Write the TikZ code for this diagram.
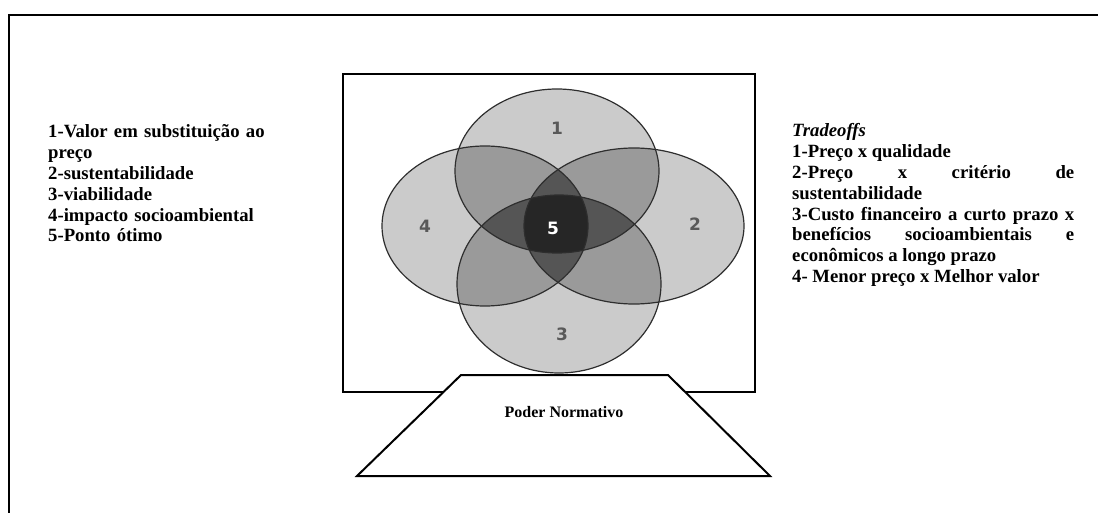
\documentclass[tikz,border=0pt]{standalone}
\usepackage{fontspec}
\setmainfont{Liberation Serif}
\newfontfamily\numfont{DejaVu Sans}
\usetikzlibrary{positioning}
\definecolor{petalgray}{HTML}{CBCBCB}
\definecolor{pairgray}{HTML}{9A9A9A}
\definecolor{triplegray}{HTML}{555555}
\definecolor{coregray}{HTML}{262626}
\definecolor{rimgray}{HTML}{2E2E2E}
\definecolor{numgray}{HTML}{595959}

% the four petals of the Venn diagram
\newcommand{\petalA}{(557,171) ellipse [x radius=102pt, y radius=82pt]}
\newcommand{\petalB}{(634,226) ellipse [x radius=110pt, y radius=78pt]}
\newcommand{\petalC}{(559,284) ellipse [x radius=102pt, y radius=89pt]}
\newcommand{\petalD}{(485,226) ellipse [x radius=103pt, y radius=80pt]}

\begin{document}
\begin{tikzpicture}[x=1pt, y=-1pt,
    frame/.style={line width=2.5pt, line cap=rect},
    rim/.style={draw=rimgray, line width=1.2pt},
    num/.style={font=\numfont\bfseries\fontsize{17}{17}\selectfont, text=numgray},
    listtext/.style={anchor=base west, inner sep=0pt,
                     font=\bfseries\fontsize{18.7}{20.8}\selectfont}]
  \useasboundingbox (0,0) rectangle (1098,513);
  \draw[frame] (9,513) -- (9,15) -- (1098,15);
  \draw[line width=1.5pt] (343,74) rectangle (755,392);

  % single, double, triple and fourfold overlaps
  \foreach \p in {\petalA,\petalB,\petalC,\petalD}
    \fill[petalgray] \p;
  \foreach \p/\q in {\petalA/\petalB,\petalA/\petalC,\petalA/\petalD,
                     \petalB/\petalC,\petalB/\petalD,\petalC/\petalD}{
    \begin{scope}
      \clip \p;
      \fill[pairgray] \q;
    \end{scope}}
  \foreach \p/\q/\r in {\petalA/\petalB/\petalC,\petalA/\petalB/\petalD,
                        \petalA/\petalC/\petalD,\petalB/\petalC/\petalD}{
    \begin{scope}
      \clip \p;
      \clip \q;
      \fill[triplegray] \r;
    \end{scope}}
  \begin{scope}
    \clip \petalA;
    \clip \petalB;
    \clip \petalC;
    \fill[coregray] \petalD;
  \end{scope}
  \foreach \p in {\petalA,\petalB,\petalC,\petalD}
    \draw[rim] \p;

  \node[num] (one) at (557,128) {1};
  \node[num] (two) at (695,224) {2};
  \node[num] (three) at (562,334) {3};
  \node[num] (four) at (425,226) {4};
  \node[num, text=white] (five) at (553,228) {5};

  % base of the diagram
  \filldraw[fill=white, line width=2pt, line join=miter]
    (461,375) -- (668,375) -- (770,476) -- (357,476) -- cycle;
  \node[font=\bfseries\fontsize{16}{16}\selectfont] (poder) at (564,412) {Poder Normativo};

  \node[listtext, text width=260pt, align=left] (criteria) at (48,138) {1-Valor em substituição ao\\preço\\2-sustentabilidade\\3-viabilidade\\4-impacto socioambiental\\5-Ponto ótimo};
  \node[listtext, text width=282pt, align=justify] (tradeoffs) at (792,137)
    {\hyphenpenalty=10000\exhyphenpenalty=10000\tolerance=9999
     {\itshape Tradeoffs}\par
     1-Preço x qualidade\par
     2-Preço x critério de\linebreak sustentabilidade\par
     3-Custo financeiro a curto prazo x\linebreak benefícios socioambientais e\linebreak econômicos a longo prazo\par
     4- Menor preço x Melhor valor\par};
\end{tikzpicture}
\end{document}
